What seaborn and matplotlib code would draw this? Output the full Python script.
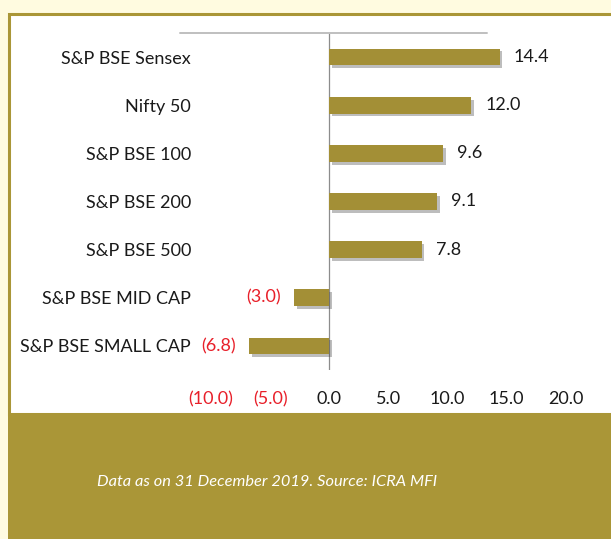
import matplotlib
matplotlib.use("Agg")
import matplotlib.pyplot as plt
import matplotlib.patheffects as pe
from matplotlib.patches import Rectangle
import seaborn as sns
import pandas as pd

categories = ["S&P BSE Sensex", "Nifty 50", "S&P BSE 100", "S&P BSE 200",
              "S&P BSE 500", "S&P BSE MID CAP", "S&P BSE SMALL CAP"]
values = [14.4, 12.0, 9.6, 9.1, 7.8, -3.0, -6.8]
xticks = [-10, -5, 0, 5, 10, 15, 20]
footer = "Data as on 31 December 2019. Source: ICRA MFI"

BAR = "#A38F36"
BAND = "#AA9637"
CREAM = "#FFFBE0"
RED = "#E8202A"
TXT = "#1a1a1a"
FS = 13

sns.set_theme(style="white")
plt.rcParams["font.family"] = ["Lato", "DejaVu Sans"]

W, H = 611, 539
fig = plt.figure(figsize=(W / 100, H / 100), dpi=100)
fig.patch.set_facecolor(CREAM)

# white panel with olive border
fig.patches.append(Rectangle((9 / W, 1 - 414 / H), 610 / W, 400 / H,
                             transform=fig.transFigure, facecolor="white",
                             edgecolor=BAND, linewidth=2.2, zorder=-10))
# olive band at the bottom
fig.patches.append(Rectangle((8 / W, 0), 605 / W, 1 - 413 / H,
                             transform=fig.transFigure, facecolor=BAND,
                             edgecolor="none", zorder=-9))
fig.text(267 / W, 1 - 482 / H, footer, color="white", fontsize=11.8,
         style="italic", ha="center", va="center")

left, right, top, bottom = 180, 580, 33, 370
ax = fig.add_axes([left / W, 1 - bottom / H, (right - left) / W, (bottom - top) / H])
ax.set_zorder(2)
ax.set_facecolor("none")

df = pd.DataFrame({"cat": categories, "val": values})
sns.barplot(data=df, x="val", y="cat", orient="h", color=BAR, width=0.35,
            saturation=1, linewidth=0, ax=ax)
for p in ax.patches:
    p.set_linewidth(0)
    p.set_path_effects([pe.SimplePatchShadow(offset=(2, -2), shadow_rgbFace="#444444", alpha=0.35),
                        pe.Normal()])

x0 = -10 - 31 / 11.83
x1 = x0 + 400 / 11.83
ax.set_xlim(x0, x1)
ax.set_ylim(6.5, -0.5)

for s in ax.spines.values():
    s.set_visible(False)
ax.axvline(0, color="#8c8c8c", lw=0.9, zorder=0)
ax.axhline(-0.5, xmin=0, xmax=(487 - 180) / 400, color="#bfbfbf", lw=1.4, clip_on=False)

ax.set_xticks(xticks)
ax.set_xticklabels([f"({abs(v):.1f})" if v < 0 else f"{v:.1f}" for v in xticks])
for lbl, v in zip(ax.get_xticklabels(), xticks):
    lbl.set_color(RED if v < 0 else TXT)
ax.tick_params(axis="x", length=0, pad=15, labelsize=FS)
ax.set_yticks(range(len(categories)))
ax.set_yticklabels(categories)
ax.tick_params(axis="y", length=0, pad=-(191 - 180) / 1.389, labelsize=FS, labelcolor=TXT)
ax.set_xlabel("")
ax.set_ylabel("")

for i, v in enumerate(values):
    if v >= 0:
        ax.text(v + 1.2, i, f"{v:.1f}", color=TXT, fontsize=FS, ha="left", va="center")
    else:
        ax.text(v - 1.1, i, f"({abs(v):.1f})", color=RED, fontsize=FS, ha="right", va="center")

fig.savefig("out.png", dpi=100, facecolor=CREAM)
